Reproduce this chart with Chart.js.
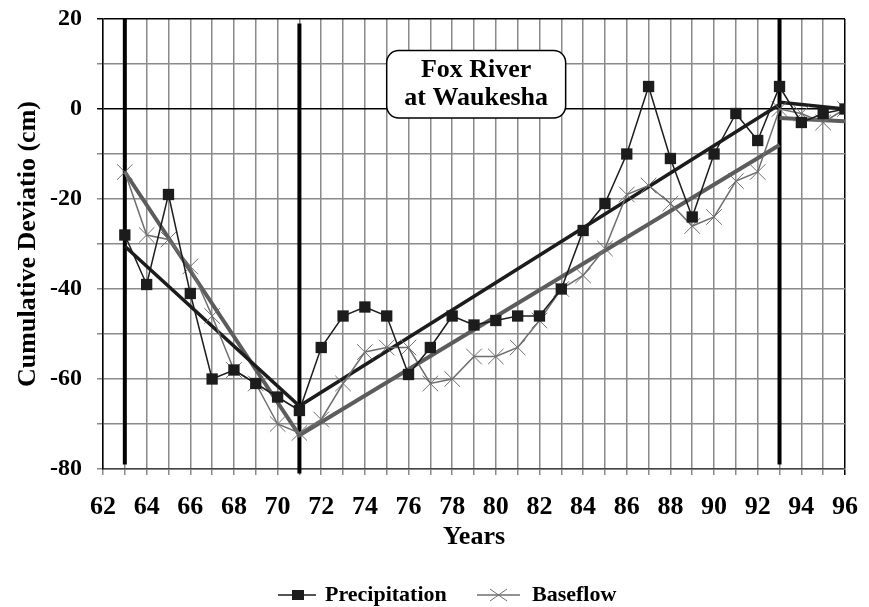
<!DOCTYPE html>
<html>
<head>
<meta charset="utf-8">
<script src="https://cdn.jsdelivr.net/npm/chart.js@4/dist/chart.umd.min.js"></script>
<style>
  html, body { margin: 0; padding: 0; background: #fff; }
</style>
</head>
<body>
<canvas id="chart" width="869" height="607"></canvas>
<script>
// values
const years = [63, 64, 65, 66, 67, 68, 69, 70, 71, 72, 73, 74, 75, 76, 77, 78, 79,
  80, 81, 82, 83, 84, 85, 86, 87, 88, 89, 90, 91, 92, 93, 94, 95, 96]
const precipitation = [-28, -39, -19, -41, -60, -58, -61, -64, -67, -53, -46, -44, -46, -59, -53, -46, -48,
  -47, -46, -46, -40, -27, -21, -10, 5, -11, -24, -10, -1, -7, 5, -3, -1, 0]
const baseflow = [-14, -28, -29, -35, -46, -58, -61, -70, -72, -69, -61, -54, -53, -53, -61, -60, -55,
  -55, -53, -47, -40, -37, -31, -19, -17, -21, -26, -24, -16, -14, 0, -1, -3, 0]

// fitted trend segments (null splits the last piece off)
const precipTrendYears = [63, 71, 93, 93, 93, 96]
const precipTrendValues = [-30.5, -66, 1, null, 1.5, 0]
const baseflowTrendYears = [63, 71, 93, 93, 93, 96]
const baseflowTrendValues = [-14, -72.5, -8, null, -2, -2.7]

// heavy vertical break lines
const breakYears = [63, 71, 93]
const breakTop = [20, 19, 20]
const breakBottom = [-79, -81, -79]

const labelLines = ['Fox River', 'at Waukesha']
const seriesNames = ['Precipitation', 'Baseflow']

const ink = '#1c1c1c'
const grey = '#6e6e6e'
const serif = 'Liberation Serif'

function pairs (xs, ys) {
  return xs.map(function (x, i) { return { x: x, y: ys[i] } })
}

const breakData = []
breakYears.forEach(function (yr, i) {
  breakData.push({ x: yr, y: breakTop[i] }, { x: yr, y: breakBottom[i] }, { x: yr, y: null })
})

const boxLabel = {
  id: 'boxLabel',
  afterDatasetsDraw: function (chart) {
    const ctx = chart.ctx
    const x = chart.scales.x
    const y = chart.scales.y
    const left = x.getPixelForValue(75)
    const right = x.getPixelForValue(83.2)
    const top = y.getPixelForValue(13)
    const bottom = y.getPixelForValue(-2)
    ctx.save()
    ctx.beginPath()
    ctx.roundRect(left, top, right - left, bottom - top, 12)
    ctx.fillStyle = '#fff'
    ctx.fill()
    ctx.lineWidth = 1.5
    ctx.strokeStyle = '#000'
    ctx.stroke()
    ctx.fillStyle = '#000'
    ctx.font = 'bold 26px "' + serif + '"'
    ctx.textAlign = 'center'
    ctx.textBaseline = 'alphabetic'
    ctx.fillText(labelLines[0], (left + right) / 2, top + 26)
    ctx.fillText(labelLines[1], (left + right) / 2, top + 54)
    ctx.restore()
  }
}

const bottomLegend = {
  id: 'bottomLegend',
  afterDraw: function (chart) {
    const ctx = chart.ctx
    const cy = 595
    ctx.save()
    ctx.lineWidth = 1.5
    // precipitation: line + square
    ctx.strokeStyle = ink
    ctx.beginPath(); ctx.moveTo(278, cy); ctx.lineTo(316, cy); ctx.stroke()
    ctx.fillStyle = ink
    ctx.fillRect(292, cy - 5, 12, 10)
    // baseflow: line + cross
    ctx.strokeStyle = grey
    ctx.beginPath(); ctx.moveTo(477, cy); ctx.lineTo(520, cy); ctx.stroke()
    ctx.lineWidth = 1
    ctx.beginPath()
    ctx.moveTo(490, cy - 6); ctx.lineTo(507, cy + 6)
    ctx.moveTo(490, cy + 6); ctx.lineTo(507, cy - 6)
    ctx.stroke()
    ctx.fillStyle = '#000'
    ctx.font = 'bold 22px "' + serif + '"'
    ctx.textBaseline = 'middle'
    ctx.fillText(seriesNames[0], 325, cy)
    ctx.fillText(seriesNames[1], 532, cy)
    ctx.restore()
  }
}

const ctx = document.getElementById('chart')

new Chart(ctx, {
  type: 'line',
  data: {
    datasets: [
      {
        label: seriesNames[0],
        data: pairs(years, precipitation),
        borderColor: ink,
        backgroundColor: ink,
        borderWidth: 1.5,
        pointStyle: 'rect',
        pointRadius: 8,
        pointBorderWidth: 0,
        order: 0
      },
      {
        label: seriesNames[1],
        data: pairs(years, baseflow),
        borderColor: grey,
        backgroundColor: grey,
        borderWidth: 1.5,
        pointStyle: 'crossRot',
        pointRadius: 11,
        pointBorderWidth: 1,
        order: 1
      },
      {
        label: 'precip trend',
        data: pairs(precipTrendYears, precipTrendValues),
        borderColor: ink,
        borderWidth: 3.5,
        pointRadius: 0,
        spanGaps: false,
        order: 2
      },
      {
        label: 'baseflow trend',
        data: pairs(baseflowTrendYears, baseflowTrendValues),
        borderColor: '#5c5c5c',
        borderWidth: 4,
        pointRadius: 0,
        spanGaps: false,
        order: 3
      },
      {
        label: 'breaks',
        data: breakData,
        borderColor: '#000',
        borderWidth: 4,
        pointRadius: 0,
        spanGaps: false,
        clip: false,
        order: 4
      }
    ]
  },
  options: {
    responsive: false,
    animation: false,
    layout: { padding: { top: 19, right: 24, bottom: 48, left: 0 } },
    plugins: {
      legend: { display: false },
      tooltip: { enabled: false }
    },
    scales: {
      x: {
        type: 'linear',
        min: 62,
        max: 96,
        ticks: {
          stepSize: 1,
          autoSkip: false,
          maxRotation: 0,
          padding: 17,
          color: '#000',
          font: { family: serif, size: 26, weight: 'bold' },
          callback: function (v) { return v % 2 === 0 ? String(v) : '' }
        },
        grid: {
          color: function (c) { return c.tick && c.tick.value === 96 ? '#000' : '#8a8a8a' },
          lineWidth: 1.5,
          tickLength: 6
        },
        border: { color: '#444', width: 1.5 },
        title: {
          display: true,
          text: 'Years',
          color: '#000',
          font: { family: serif, size: 26, weight: 'bold' },
          padding: { top: 0, bottom: 6 }
        },
        afterFit: function (s) {
          s.height = 90
          s.paddingLeft = 0
          s.paddingRight = 0
        }
      },
      y: {
        min: -80,
        max: 20,
        ticks: {
          stepSize: 10,
          padding: 15,
          color: '#000',
          font: { family: serif, size: 24, weight: 'bold' },
          callback: function (v) { return v % 20 === 0 ? String(v) : '' }
        },
        grid: {
          color: function (c) {
            if (!c.tick) return '#8a8a8a'
            return (c.tick.value === 0 || c.tick.value === 20) ? '#000' : '#8a8a8a'
          },
          lineWidth: 1.5,
          tickLength: 6
        },
        border: { color: '#000', width: 1.5 },
        title: {
          display: true,
          text: 'Cumulative Deviatio (cm)',
          color: '#000',
          font: { family: serif, size: 26, weight: 'bold' },
          padding: { top: 13, bottom: 0 }
        },
        afterFit: function (s) {
          s.width = 103
          s.paddingTop = 0
          s.paddingBottom = 0
        }
      }
    }
  },
  plugins: [boxLabel, bottomLegend]
})
</script>
</body>
</html>
